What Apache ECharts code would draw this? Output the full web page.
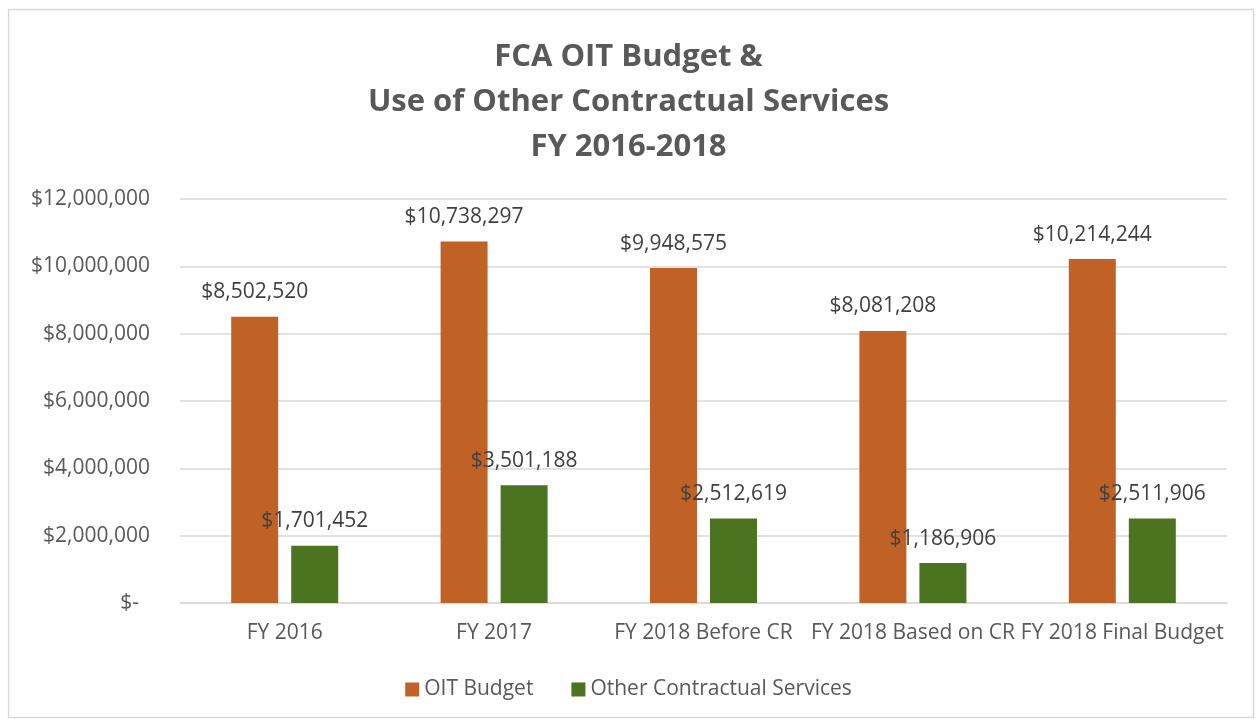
<!DOCTYPE html>
<html>
<head>
<meta charset="utf-8">
<script src="https://cdn.jsdelivr.net/npm/echarts@6/dist/echarts.min.js"></script>
<style>
html,body{margin:0;padding:0;background:#fff;}
#c{width:1257px;height:719px;}
</style>
</head>
<body>
<div id="c"></div>
<script>
var categories = ['FY 2016', 'FY 2017', 'FY 2018 Before CR', 'FY 2018 Based on CR', 'FY 2018 Final Budget'];
var oitBudget = [8502520, 10738297, 9948575, 8081208, 10214244];
var otherContractual = [1701452, 3501188, 2512619, 1186906, 2511906];
var seriesNames = ['OIT Budget', 'Other Contractual Services'];
var titleLines = ['FCA OIT Budget &', 'Use of Other Contractual Services', 'FY 2016-2018'];

var FONT = '"Open Sans", "Noto Sans", sans-serif';
function money(v) {
  if (v === 0) return '$-  ';
  return '$' + v.toString().replace(/\B(?=(\d{3})+(?!\d))/g, ',');
}

var chart = echarts.init(document.getElementById('c'), null, {renderer: 'canvas'});
chart.setOption({
  backgroundColor: '#fff',
  animation: false,
  title: {
    text: titleLines.join('\n'),
    left: 'center',
    top: 30,
    textStyle: {fontFamily: FONT, fontWeight: 'bold', fontSize: 31, color: '#595959', lineHeight: 45}
  },
  graphic: [{
    type: 'rect',
    shape: {x: 8.5, y: 9.5, width: 1245, height: 708},
    style: {fill: 'none', stroke: '#D9D9D9', lineWidth: 1.5},
    silent: true
  }],
  legend: {
    data: seriesNames,
    bottom: 14,
    left: 'center',
    itemWidth: 14,
    itemHeight: 14,
    itemGap: 38,
    icon: 'rect',
    textStyle: {fontFamily: FONT, fontSize: 21, color: '#595959'}
  },
  grid: {left: 180, right: 30, top: 199, bottom: 116, containLabel: false},
  xAxis: {
    type: 'category',
    data: categories,
    axisLine: {show: true, lineStyle: {color: '#D9D9D9', width: 1.5}},
    axisTick: {show: false},
    axisLabel: {fontFamily: FONT, fontSize: 21, color: '#595959', margin: 20, interval: 0}
  },
  yAxis: {
    type: 'value',
    min: 0,
    max: 12000000,
    interval: 2000000,
    axisLine: {show: false},
    axisTick: {show: false},
    splitLine: {lineStyle: {color: '#D9D9D9', width: 1.5}},
    axisLabel: {fontFamily: FONT, fontSize: 21, color: '#595959', margin: 30, formatter: money}
  },
  series: [{
    name: seriesNames[0],
    type: 'bar',
    data: oitBudget,
    barWidth: 47,
    barGap: '27.7%',
    itemStyle: {color: '#C06226'},
    label: {show: true, position: 'top', distance: 14, fontFamily: FONT, fontSize: 21, color: '#404040', formatter: function (p) { return money(p.value); }}
  }, {
    name: seriesNames[1],
    type: 'bar',
    data: otherContractual,
    barWidth: 47,
    itemStyle: {color: '#4C7320'},
    label: {show: true, position: 'top', distance: 14, fontFamily: FONT, fontSize: 21, color: '#404040', formatter: function (p) { return money(p.value); }}
  }]
});
</script>
</body>
</html>
